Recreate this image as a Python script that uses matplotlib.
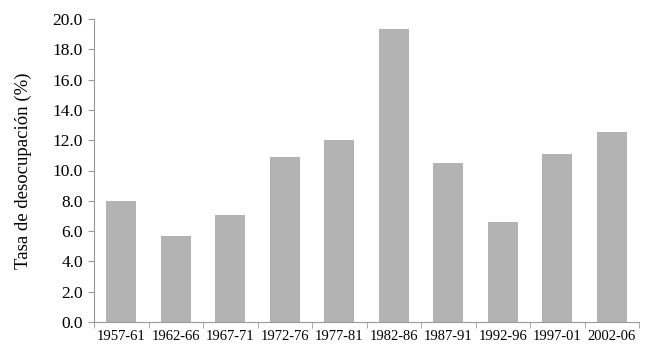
import numpy as np
import matplotlib.pyplot as plt

# Data
periods = ['1957-61', '1962-66', '1967-71', '1972-76', '1977-81',
           '1982-86', '1987-91', '1992-96', '1997-01', '2002-06']
tasa = [8.0, 5.65, 7.04, 10.87, 12.0, 19.34, 10.5, 6.6, 11.07, 12.56]

plt.rcParams['font.family'] = ['Liberation Serif', 'DejaVu Serif']

fig = plt.figure(figsize=(6.48, 3.61), dpi=100)
ax = fig.add_axes([94 / 648, 1 - 322 / 361, (639 - 94) / 648, (322 - 19) / 361])

x = np.arange(len(periods))
ax.bar(x, tasa, width=0.55, color='#b3b3b3')

ax.set_xlim(-0.5, len(periods) - 0.5)
ax.set_ylim(0, 20)
ax.set_yticks(np.arange(0, 20.1, 2))
ax.set_yticklabels(['%.1f' % v for v in np.arange(0, 20.1, 2)], fontsize=12.5)
ax.set_xticks(x)
ax.set_xticklabels(periods, fontsize=10.5)
ax.set_xticks(np.arange(-0.5, len(periods)), minor=True)
ax.tick_params(axis='x', which='major', length=0, pad=6)
ax.tick_params(axis='x', which='minor', length=4, color='#999999', direction='out')
ax.tick_params(axis='y', length=4, color='#999999', direction='out', pad=4)
ax.set_ylabel('Tasa de desocupación (%)', fontsize=13.5)
ax.yaxis.set_label_coords(-62 / 545, 0.5)

for s in ['top', 'right']:
    ax.spines[s].set_visible(False)
for s in ['left', 'bottom']:
    ax.spines[s].set_color('#999999')

fig.savefig('out.png', dpi=100)
